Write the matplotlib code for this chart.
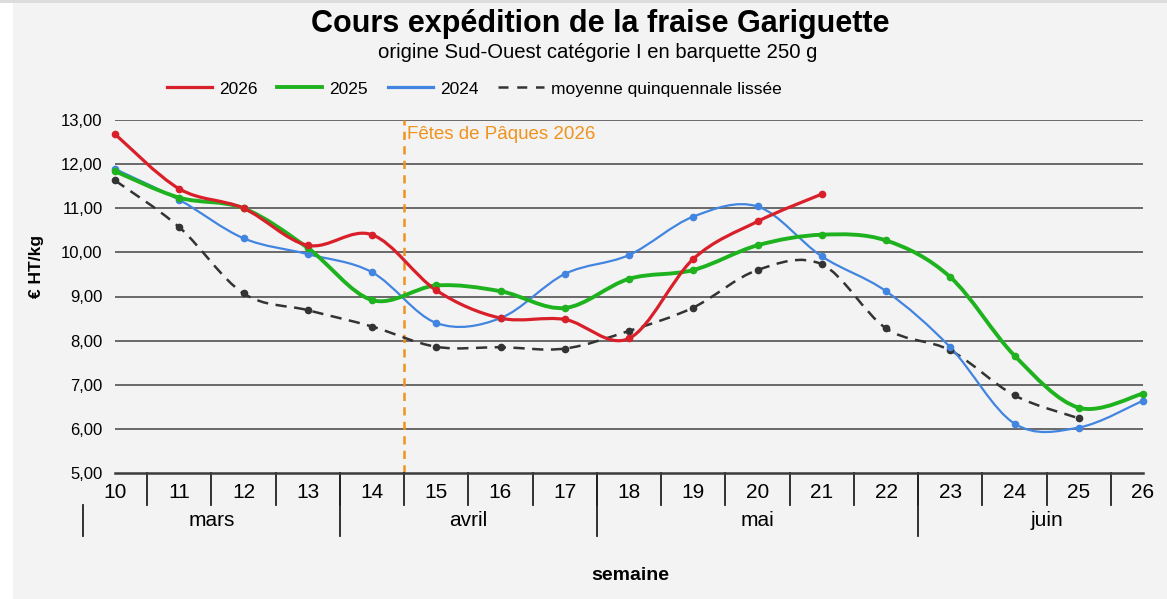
import numpy as np
import matplotlib
matplotlib.use("Agg")
import matplotlib.pyplot as plt
from matplotlib.path import Path
from matplotlib.patches import PathPatch, Rectangle
from matplotlib.lines import Line2D

plt.rcParams['font.family'] = ['Liberation Sans', 'DejaVu Sans']

weeks = list(range(10, 27))
prix_2026 = [12.68, 11.44, 11.00, 10.16, 10.40, 9.14, 8.51, 8.48, 8.05, 9.85, 10.70, 11.32]
prix_2025 = [11.84, 11.24, 11.00, 10.10, 8.92, 9.25, 9.12, 8.74, 9.40, 9.60, 10.16, 10.40,
             10.27, 9.44, 7.66, 6.48, 6.80]
prix_2024 = [11.89, 11.19, 10.32, 9.96, 9.55, 8.40, 8.51, 9.51, 9.94, 10.81, 11.04, 9.91,
             9.12, 7.85, 6.12, 6.03, 6.64]
moyenne = [11.63, 10.57, 9.07, 8.69, 8.32, 7.86, 7.85, 7.82, 8.22, 8.75, 9.60, 9.73,
           8.28, 7.78, 6.76, 6.24]

mois = ['mars', 'avril', 'mai', 'juin']
mois_bornes = [9.5, 13.5, 17.5, 22.5, 26.5]
paques = 14.5

c_2026 = '#D9202A'
c_2025 = '#1FB21F'
c_2024 = '#4285E0'
c_moy = '#333333'
c_orange = '#F0921C'
bg = '#F3F3F3'


def smooth_path(x, y):
    # Excel-like smoothed line: cubic bezier segments through each point
    x = np.asarray(x, float)
    y = np.asarray(y, float)
    pts = np.column_stack([x, y])
    n = len(pts)
    verts = [pts[0]]
    codes = [Path.MOVETO]
    for i in range(n - 1):
        p0 = pts[i - 1] if i > 0 else pts[i]
        p1 = pts[i]
        p2 = pts[i + 1]
        p3 = pts[i + 2] if i + 2 < n else pts[i + 1]
        c1 = p1 + (p2 - p0) / 6.0
        c2 = p2 - (p3 - p1) / 6.0
        verts += [c1, c2, p2]
        codes += [Path.CURVE4] * 3
    return Path(verts, codes)


fig = plt.figure(figsize=(11.67, 5.99), dpi=100, facecolor=bg)
fig.patches.append(Rectangle((0, 0), 13 / 1167, 1, transform=fig.transFigure,
                             facecolor='white', edgecolor='none'))
fig.patches.append(Rectangle((0, 1 - 3 / 599), 1, 3 / 599, transform=fig.transFigure,
                             facecolor='#DCDCDC', edgecolor='none'))

ax = fig.add_axes([115 / 1167, 1 - 473 / 599, 1028 / 1167, 353 / 599])
ax.set_facecolor(bg)
ax.set_xlim(10, 26)
ax.set_ylim(5, 13)

for v in range(6, 14):
    ax.axhline(v, color='#5E5E5E', lw=1.3, zorder=1)
for s in ['top', 'right', 'left']:
    ax.spines[s].set_visible(False)
ax.spines['bottom'].set_color('#3A3A3A')
ax.spines['bottom'].set_linewidth(1.8)

ax.set_yticks(range(5, 14))
ax.set_yticklabels([f'{v},00' for v in range(5, 14)], fontsize=12)
ax.tick_params(axis='y', length=0, pad=9)
ax.set_xticks([])

series = [
    (prix_2026, c_2026, 2.3, '-'),
    (prix_2025, c_2025, 2.8, '-'),
    (prix_2024, c_2024, 1.6, '-'),
    (moyenne, c_moy, 1.8, (0, (4.5, 3.0))),
]
for vals, col, lw, ls in reversed(series):
    xs = weeks[:len(vals)]
    patch = PathPatch(smooth_path(xs, vals), facecolor='none', edgecolor=col,
                      lw=lw, linestyle=ls, zorder=3, clip_on=False, capstyle='butt')
    ax.add_patch(patch)
    ax.plot(xs, vals, 'o', color=col, ms=4.5, zorder=4, clip_on=False)

ax.axvline(paques, color=c_orange, lw=1.8, linestyle=(0, (3.3, 2.5)), zorder=2)
ax.text(paques + 0.05, 12.68, 'Fêtes de Pâques 2026', color=c_orange, fontsize=13.5,
        va='center', ha='left')

# category axis: weeks and months
tr = ax.get_xaxis_transform()
y_week = -19 / 353
y_tick = -32 / 353
y_month = -48 / 353
y_mline = -63 / 353
for w in weeks:
    ax.text(w, y_week, str(w), transform=tr, ha='center', va='center', fontsize=15,
            clip_on=False)
for b in np.arange(10.5, 26, 1.0):
    ax.plot([b, b], [0, y_tick], transform=tr, color='#222222', lw=1.3, clip_on=False)
for b in mois_bornes:
    top = 0 if 10 < b < 26 else y_tick
    ax.plot([b, b], [top, y_mline], transform=tr, color='#222222', lw=1.3, clip_on=False)
for i, m in enumerate(mois):
    xc = (mois_bornes[i] + mois_bornes[i + 1]) / 2
    ax.text(xc, y_month, m, transform=tr, ha='center', va='center', fontsize=15,
            clip_on=False)

fig.text(630 / 1167, 1 - 575 / 599, 'semaine', ha='center', va='center',
         fontsize=14, fontweight='bold')
fig.text(36 / 1167, 1 - 266 / 599, '€ HT/kg', ha='center', va='center', rotation=90,
         fontsize=12.5, fontweight='bold')

fig.text(600 / 1167, 1 - 24 / 599, 'Cours expédition de la fraise Gariguette',
         ha='center', va='center', fontsize=22, fontweight='bold')
fig.text(598 / 1167, 1 - 53 / 599, 'origine Sud-Ouest catégorie I en barquette 250 g',
         ha='center', va='center', fontsize=14.6)

handles = [
    Line2D([], [], color=c_2026, lw=2.3),
    Line2D([], [], color=c_2025, lw=2.8),
    Line2D([], [], color=c_2024, lw=2.3),
    Line2D([], [], color=c_moy, lw=1.8, linestyle=(0, (4, 3.5))),
]
labels = ['2026', '2025', '2024', 'moyenne quinquennale lissée']
fig.legend(handles, labels, loc='center', bbox_to_anchor=(474 / 1167, 1 - 89 / 599),
           ncol=4, frameon=False, fontsize=12.5, handlelength=2.6, handletextpad=0.4,
           columnspacing=1.15)

fig.savefig('out.png', dpi=100, facecolor=bg)
